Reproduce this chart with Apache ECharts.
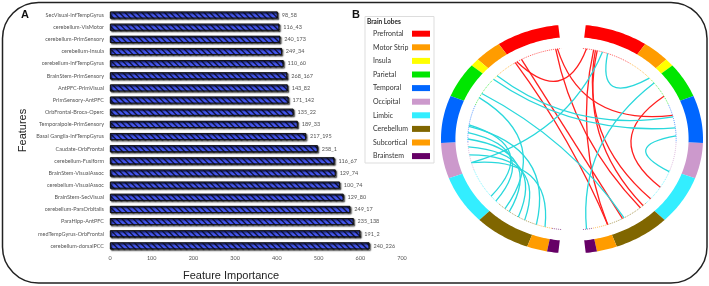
<!DOCTYPE html>
<html>
<head>
<meta charset="utf-8">
<script src="https://cdn.jsdelivr.net/npm/echarts@6/dist/echarts.min.js"></script>
<style>
  html, body { margin: 0; padding: 0; background: #fff; }
  #main { width: 709px; height: 286px; }
</style>
</head>
<body>
<div id="main"></div>
<script>
// A - feature importance (top to bottom)
var features = [
  'SecVisual-InfTempGyrus', 'cerebellum-VisMotor', 'cerebellum-PrimSensory', 'cerebellum-Insula',
  'cerebellum-InfTempGyrus', 'BrainStem-PrimSensory', 'AntPFC-PrimVisual', 'PrimSensory-AntPFC',
  'OrbFrontal-Broca-Operc', 'Temporalpole-PrimSensory', 'Basal Ganglia-InfTempGyrus', 'Caudate-OrbFrontal',
  'cerebellum-Fusiform', 'BrainStem-VisualAssoc', 'cerebellum-VisualAssoc', 'BrainStem-SecVisual',
  'cerebellum-ParsOrbitalis', 'ParaHipp-AntPFC', 'medTempGyrus-OrbFrontal', 'cerebellum-dorsalPCC'
];
var importance = [402, 406, 408, 412, 416, 425, 426, 428, 440, 450, 470, 498, 538, 541, 551, 560, 576, 584, 600, 622];
var pairLabels = [
  '98_58', '116_43', '240_173', '249_34', '110_60', '268_167', '143_82', '171_142', '135_22', '189_33',
  '217_195', '258_1', '116_67', '129_74', '100_74', '129_80', '249_17', '235_138', '191_2', '240_226'
];
var importanceTicks = [0, 700, 100];

// B - brain lobes, right hemisphere span in degrees clockwise from top (left one is mirrored)
var lobeNames = ['Prefrontal', 'Motor Strip', 'Insula', 'Parietal', 'Temporal', 'Occipital', 'Limbic', 'Cerebellum', 'Subcortical', 'Brainstem'];
var lobeColors = ['#ff0000', '#ff9c00', '#ffff00', '#00e600', '#0066ff', '#cc99cc', '#33eeff', '#806600', '#ff9c00', '#660066'];
var lobeStart = [6, 34, 46, 50, 68, 92, 110, 135, 160, 169];
var lobeEnd = [34, 46, 50, 68, 92, 110, 135, 160, 169, 174];

// connections, [from, to] in degrees (negative = left hemisphere)
var prefrontalLinks = [[8, -32], [-8, 75], [-9, 139], [-29, 151], [-33, 160], [12, 160], [14, 137], [62, 122], [13, 131]];
var limbicLinks = [
  [-46, 76], [-49, 83], [17, -105], [20, 48], [88, 111], [52, 172], [-60, 150],
  [-81, -129], [-86, -133], [-90, -143], [-95, -149], [-100, -153], [-105, -165], [-82, -160], [-63, -140]
];

var R_OUT = 1, R_IN = 0.89, R_LINK = 0.795;

function toXY(r, deg) {
  var a = deg * Math.PI / 180;
  return [r * Math.sin(a), r * Math.cos(a)];
}

function renderLobe(params, api) {
  var s = api.value(0), e = api.value(1);
  var color = api.visual('color');
  var outer = [], inner = [], dots = [];
  var n = Math.max(2, Math.ceil(Math.abs(e - s)));
  for (var i = 0; i <= n; i++) {
    var d = s + (e - s) * i / n;
    outer.push(api.coord(toXY(R_OUT, d)));
    inner.unshift(api.coord(toXY(R_IN, d)));
    dots.push(api.coord(toXY(R_LINK, d)));
  }
  return {
    type: 'group',
    children: [
      { type: 'polygon', shape: { points: outer.concat(inner) }, style: { fill: color } },
      { type: 'polyline', shape: { points: dots }, style: { stroke: color, fill: null, lineWidth: 0.8, lineDash: [1, 1], opacity: 0.8 } }
    ]
  };
}

function renderLink(params, api) {
  var a = api.value(0), b = api.value(1);
  var sep = Math.abs(a - b);
  if (sep > 180) sep = 360 - sep;
  var p0 = toXY(R_LINK, a), p1 = toXY(R_LINK, b);
  var mx = (p0[0] + p1[0]) / 2, my = (p0[1] + p1[1]) / 2;
  var len = Math.sqrt(mx * mx + my * my);
  var k = 0.6 * Math.pow(1 - sep / 180, 2) * R_LINK;
  var c = len > 1e-6 ? [mx / len * k, my / len * k] : [0, 0];
  var s0 = api.coord(p0), s1 = api.coord(p1), sc = api.coord(c);
  return {
    type: 'bezierCurve',
    shape: { x1: s0[0], y1: s0[1], x2: s1[0], y2: s1[1], cpx1: sc[0], cpy1: sc[1] },
    style: { stroke: api.visual('color'), fill: null, lineWidth: 1.3 }
  };
}

var lobeSeries = lobeNames.map(function (name, i) {
  return {
    type: 'custom',
    name: name,
    xAxisIndex: 1,
    yAxisIndex: 1,
    silent: true,
    renderItem: renderLobe,
    itemStyle: { color: lobeColors[i] },
    data: [[lobeStart[i], lobeEnd[i]], [-lobeEnd[i], -lobeStart[i]]]
  };
});

// legend box of panel B
var legendGraphics = [
  { type: 'rect', shape: { x: 365, y: 16.5, width: 69, height: 146.5 }, style: { fill: '#fff', stroke: '#dddddd', lineWidth: 1 } },
  { type: 'text', x: 367, y: 22, style: { text: 'Brain Lobes', font: 'bold 6.5px Lato', fill: '#222', verticalAlign: 'middle' } }
];
lobeNames.forEach(function (name, i) {
  var cy = 33.7 + i * 13.6;
  legendGraphics.push({ type: 'text', x: 373, y: cy, style: { text: name, font: '7px Lato', fill: '#333', verticalAlign: 'middle' } });
  legendGraphics.push({ type: 'rect', shape: { x: 412, y: cy - 3, width: 18, height: 6 }, style: { fill: lobeColors[i] } });
});

var chart = echarts.init(document.getElementById('main'));
chart.setOption({
  animation: false,
  grid: [
    { left: 110, top: 9, width: 292, height: 243 },
    { left: 441, top: 24.5, width: 262, height: 229 }
  ],
  xAxis: [
    {
      type: 'value',
      min: importanceTicks[0],
      max: importanceTicks[1],
      interval: importanceTicks[2],
      name: 'Feature Importance',
      nameLocation: 'middle',
      nameGap: 18,
      nameTextStyle: { fontFamily: 'Liberation Sans', fontSize: 11, color: '#222', padding: [0, 50, 0, 0] },
      axisLine: { show: false },
      axisTick: { show: false },
      splitLine: { show: false },
      axisLabel: { fontFamily: 'Lato', fontSize: 5.5, color: '#555', margin: 3 }
    },
    { gridIndex: 1, type: 'value', min: -1, max: 1, show: false }
  ],
  yAxis: [
    {
      type: 'category',
      inverse: true,
      data: features,
      name: 'Features',
      nameLocation: 'middle',
      nameGap: 82,
      nameTextStyle: { fontFamily: 'Liberation Sans', fontSize: 11, color: '#222' },
      axisLine: { show: false },
      axisTick: { show: false },
      axisLabel: { fontFamily: 'Lato', fontSize: 5.5, color: '#555', margin: 6 }
    },
    { gridIndex: 1, type: 'value', min: -1, max: 1, show: false }
  ],
  graphic: [
    { type: 'rect', shape: { x: 2.5, y: 2.5, width: 704.5, height: 280.5, r: 36 }, style: { fill: null, stroke: '#222', lineWidth: 1.5 } },
    { type: 'text', x: 21, y: 15, style: { text: 'A', font: 'bold 11px Liberation Sans', fill: '#111', verticalAlign: 'middle' } },
    { type: 'text', x: 352, y: 15, style: { text: 'B', font: 'bold 11px Liberation Sans', fill: '#111', verticalAlign: 'middle' } }
  ].concat(legendGraphics),
  series: [
    {
      type: 'bar',
      name: 'Importance',
      data: importance,
      barWidth: 7,
      itemStyle: {
        color: '#4558f2',
        borderColor: '#111',
        borderWidth: 0.8,
        shadowColor: 'rgba(0,0,0,0.4)',
        shadowBlur: 1.5,
        shadowOffsetX: 1.2,
        shadowOffsetY: 1.2,
        decal: {
          symbol: 'rect',
          symbolSize: 1,
          color: 'rgba(10,10,40,0.75)',
          dashArrayX: [1, 0],
          dashArrayY: [1, 2.2],
          rotation: Math.PI / 4
        }
      },
      label: {
        show: true,
        position: 'right',
        distance: 4,
        fontFamily: 'Lato',
        fontSize: 5.5,
        color: '#555',
        formatter: function (p) { return pairLabels[p.dataIndex]; }
      }
    }
  ].concat(lobeSeries, [
    {
      type: 'custom',
      name: 'Prefrontal links',
      xAxisIndex: 1,
      yAxisIndex: 1,
      silent: true,
      renderItem: renderLink,
      itemStyle: { color: '#ff1f1f' },
      data: prefrontalLinks
    },
    {
      type: 'custom',
      name: 'Limbic links',
      xAxisIndex: 1,
      yAxisIndex: 1,
      silent: true,
      renderItem: renderLink,
      itemStyle: { color: '#2ad8dc' },
      data: limbicLinks
    }
  ])
});
</script>
</body>
</html>
